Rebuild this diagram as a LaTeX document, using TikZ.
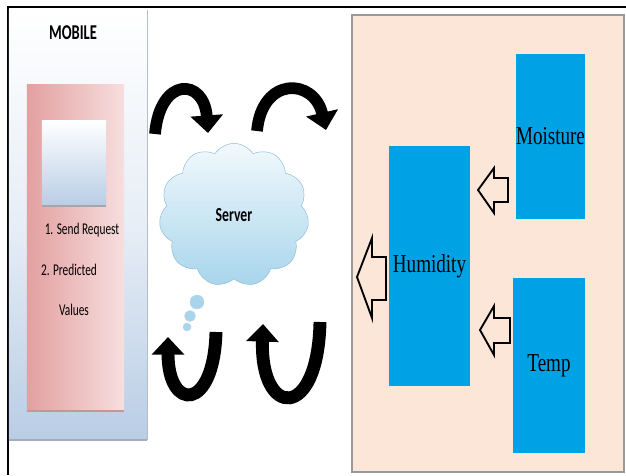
\documentclass[tikz,border=0pt]{standalone}
\usepackage{fontspec}
\setmainfont{Liberation Serif}
\newfontfamily\calibri{Carlito}
\usetikzlibrary{shapes.symbols,arrows.meta}

\definecolor{panelblue}{HTML}{B9CDE5}
\definecolor{pinkdark}{HTML}{E3A0A0}
\definecolor{pinklight}{HTML}{F7DEDE}
\definecolor{screenblue}{HTML}{B8CDE6}
\definecolor{cloudtop}{HTML}{F2F9FD}
\definecolor{cloudbot}{HTML}{A8D5EC}
\definecolor{cloudline}{HTML}{8DBBD3}
\definecolor{sensorblue}{HTML}{00A2E6}
\definecolor{peach}{HTML}{FBE6D8}

\newcommand{\narrow}[1]{\scalebox{0.74}[1]{#1}}
\newcommand{\slim}[1]{\scalebox{0.69}[1]{#1}}

\begin{document}
\begin{tikzpicture}[x=0.03cm, y=-0.03cm,
    sensor/.style={fill=sensorblue, inner sep=0pt, font=\fontsize{22}{24}\selectfont},
    mobtext/.style={font=\calibri\fontsize{14}{16}\selectfont},
    bendarrow/.style={line width=10pt, -{Triangle[width=27pt,length=15pt]}},
    hollow/.style={line width=1.6pt, line join=miter}]
    \useasboundingbox (0,0) rectangle (626,475);

    % --- frame of the figure ---
    \coordinate (tl) at (8,7); \coordinate (tr) at (626,7); \coordinate (bl) at (8,475);
    \draw[line width=2pt] (tr)--(tl)--(bl);

    % --- MOBILE side ---
    \node[minimum width=4.14cm, minimum height=12.9cm, inner sep=0pt,
          top color=white, bottom color=panelblue, middle color=panelblue!35] (mobile) at (78,225) {};
    \draw[panelblue!70!black!60, line width=1pt] (mobile.north east)--(mobile.south east);
    \draw[panelblue!60!gray, line width=2pt] (mobile.south west)--(mobile.south east);
    \node[font=\calibri\bfseries\fontsize{18}{20}\selectfont] (mobtitle) at (73,33) {\slim{MOBILE}};

    \node[minimum width=2.91cm, minimum height=9.78cm, inner sep=0pt,
          left color=pinkdark, right color=pinklight] (request) at (75.5,248) {};
    \draw[pinkdark!70!gray, line width=1.5pt] (request.south west)--(request.south east);
    \node[minimum width=1.92cm, minimum height=2.58cm, inner sep=0pt,
          top color=white, bottom color=screenblue] (screen) at (74,163) {};
    \draw[gray!70, line width=1.5pt] (screen.south west)--(screen.south east);

    \node[mobtext] (send) at (82,230) {\slim{1. Send Request}};
    \node[mobtext] (pred) at (69,270) {\slim{2. Predicted}};
    \node[mobtext] (vals) at (74,310) {\slim{Values}};

    % --- Server cloud ---
    \node[cloud, cloud puffs=11, cloud puff arc=115, aspect=1, inner sep=0pt,
          minimum width=4.5cm, minimum height=4.3cm, draw=cloudline,
          top color=cloudtop, bottom color=cloudbot,
          font=\calibri\bfseries\fontsize{17}{19}\selectfont] (server) at (234,215) {\slim{Server}};
    \foreach \x/\y/\r in {197/302/7, 190/316/5.5, 187/327/4}
        \draw[cloudline!60, fill=cloudbot] (\x,\y) circle (\r);

    % --- curved arrows between mobile and server ---
    \coordinate (a1) at (155,134); \coordinate (b1) at (208,133);
    \coordinate (a2) at (257,131); \coordinate (b2) at (326,130);
    \coordinate (a3) at (216,332); \coordinate (b3) at (168,337);
    \coordinate (a4) at (320,322); \coordinate (b4) at (263,324);
    \draw[bendarrow] (a1) .. controls (160,76) and (204,78) .. (b1);
    \draw[bendarrow] (a2) .. controls (262,76) and (314,78) .. (b2);
    \draw[bendarrow, line width=11pt] (a3) .. controls (214,412) and (168,412) .. (b3);
    \draw[bendarrow, line width=11pt] (a4) .. controls (318,422) and (260,418) .. (b4);

    % --- sensor side ---
    \node[draw=gray!80, line width=1.5pt, fill=peach, minimum width=8.16cm,
          minimum height=13.71cm, inner sep=0pt] (sensors) at (488,243.5) {};
    \node[sensor, minimum width=2.07cm, minimum height=4.95cm] (moisture) at (550.5,136.5) {\narrow{Moisture}};
    \node[sensor, minimum width=2.43cm, minimum height=7.2cm] (humidity) at (429.5,266) {\narrow{Humidity}};
    \node[sensor, minimum width=2.16cm, minimum height=5.25cm] (temp) at (549,365.5) {\narrow{Temp}};

    % hollow arrows
    \draw[hollow] (478,190)--(494,168)--(494,178)--(508,178)--(508,202)--(494,202)--(494,213)--cycle;
    \draw[hollow] (480,330)--(494,306)--(494,318)--(510,318)--(510,343)--(494,343)--(494,355)--cycle;
    \draw[hollow] (357,277)--(372,238)--(372,257)--(386,257)--(386,300)--(372,300)--(372,318)--cycle;
\end{tikzpicture}
\end{document}
